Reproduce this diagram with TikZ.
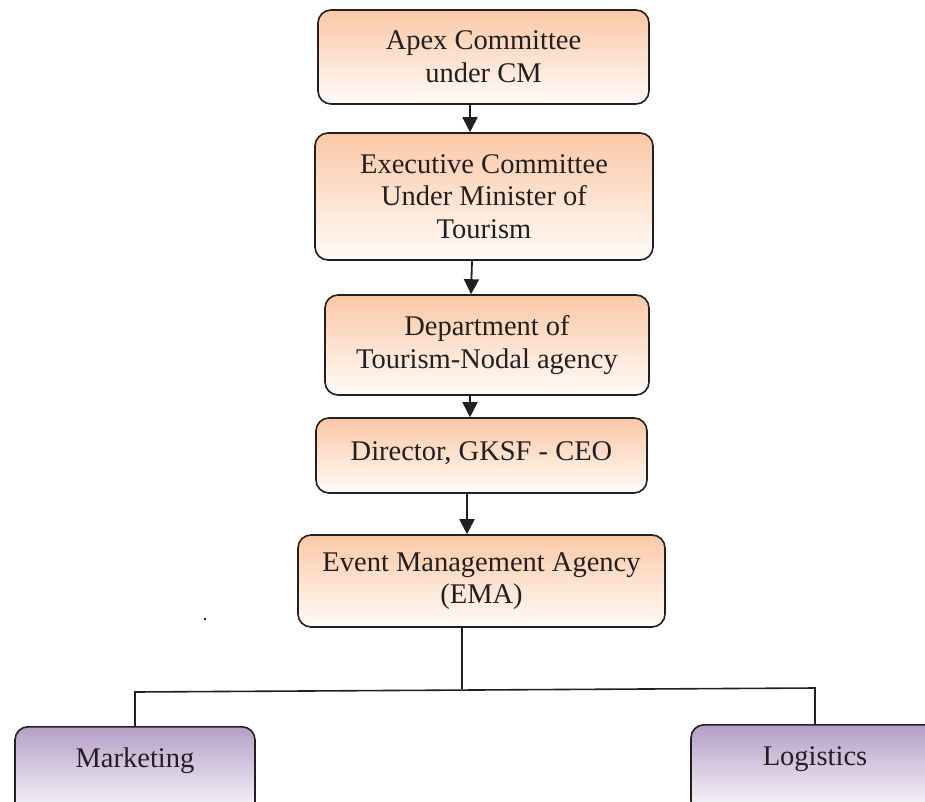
\documentclass[tikz,border=0pt]{standalone}
\usepackage{fontspec}
\setmainfont{Liberation Serif}
\usetikzlibrary{arrows.meta}
\definecolor{peachtop}{RGB}{251,200,166}
\definecolor{peachbot}{RGB}{255,251,248}
\definecolor{lilactop}{RGB}{181,158,198}
\definecolor{lilacbot}{RGB}{252,251,253}
\definecolor{ink}{RGB}{35,31,32}
\tikzset{
  orgbox/.style={draw=ink, line width=1.6pt, rounded corners=13pt,
    top color=peachtop, bottom color=peachbot, align=center,
    text=ink, inner sep=0pt,
    font=\fontsize{28.5}{32.7}\selectfont},
  subbox/.style={draw=ink, line width=1.6pt, rounded corners=13pt,
    top color=lilactop, bottom color=lilacbot, align=center,
    text=ink, inner xsep=0pt, inner ysep=21pt, anchor=north,
    text height=20pt, text depth=27pt,
    font=\fontsize{28.5}{32.7}\selectfont},
  arr/.style={draw=ink, line width=1.8pt, -{Triangle[width=15pt,length=15pt]}},
  link/.style={draw=ink, line width=1.6pt}
}
\begin{document}
\begin{tikzpicture}[x=1pt,y=-1pt]
\useasboundingbox (0,0) rectangle (925,802);
\node[orgbox, minimum width=331pt, minimum height=94pt] (apex) at (483.5,57) {Apex Committee\\under CM};
\node[orgbox, minimum width=338pt, minimum height=127pt] (exec) at (484,196.5) {Executive Committee\\Under Minister of\\Tourism};
\node[orgbox, minimum width=324pt, minimum height=100pt] (dept) at (487,345) {Department of\\Tourism-Nodal agency};
\node[orgbox, minimum width=331pt, minimum height=75pt, text depth=9pt] (dir) at (481.5,455.5) {Director, GKSF - CEO};
\node[orgbox, minimum width=367pt, minimum height=92pt] (ema) at (481.5,581) {Event Management Agency\\(EMA)};
\node[subbox, minimum width=240pt] (mkt) at (135,726) {Marketing};
\node[subbox, minimum width=248pt] (log) at (815,724) {Logistics};

\draw[arr] (470,0 |- apex.south) -- (470,0 |- exec.north);
\draw[arr] (472,0 |- exec.south) -- (471,0 |- dept.north);
\draw[arr] (470,0 |- dept.south) -- (470,0 |- dir.north);
\draw[arr] (467,0 |- dir.south) -- (467,0 |- ema.north);

\coordinate (j) at (462,689);
\coordinate (hl) at (135,692);
\coordinate (hr) at (815,688);
\draw[link] (462,0 |- ema.south) -- (j);
\draw[link] (mkt.north) -- (hl) -- (hr) -- (log.north);

\fill[ink] (204,618) rectangle (206,620);
\end{tikzpicture}
\end{document}
